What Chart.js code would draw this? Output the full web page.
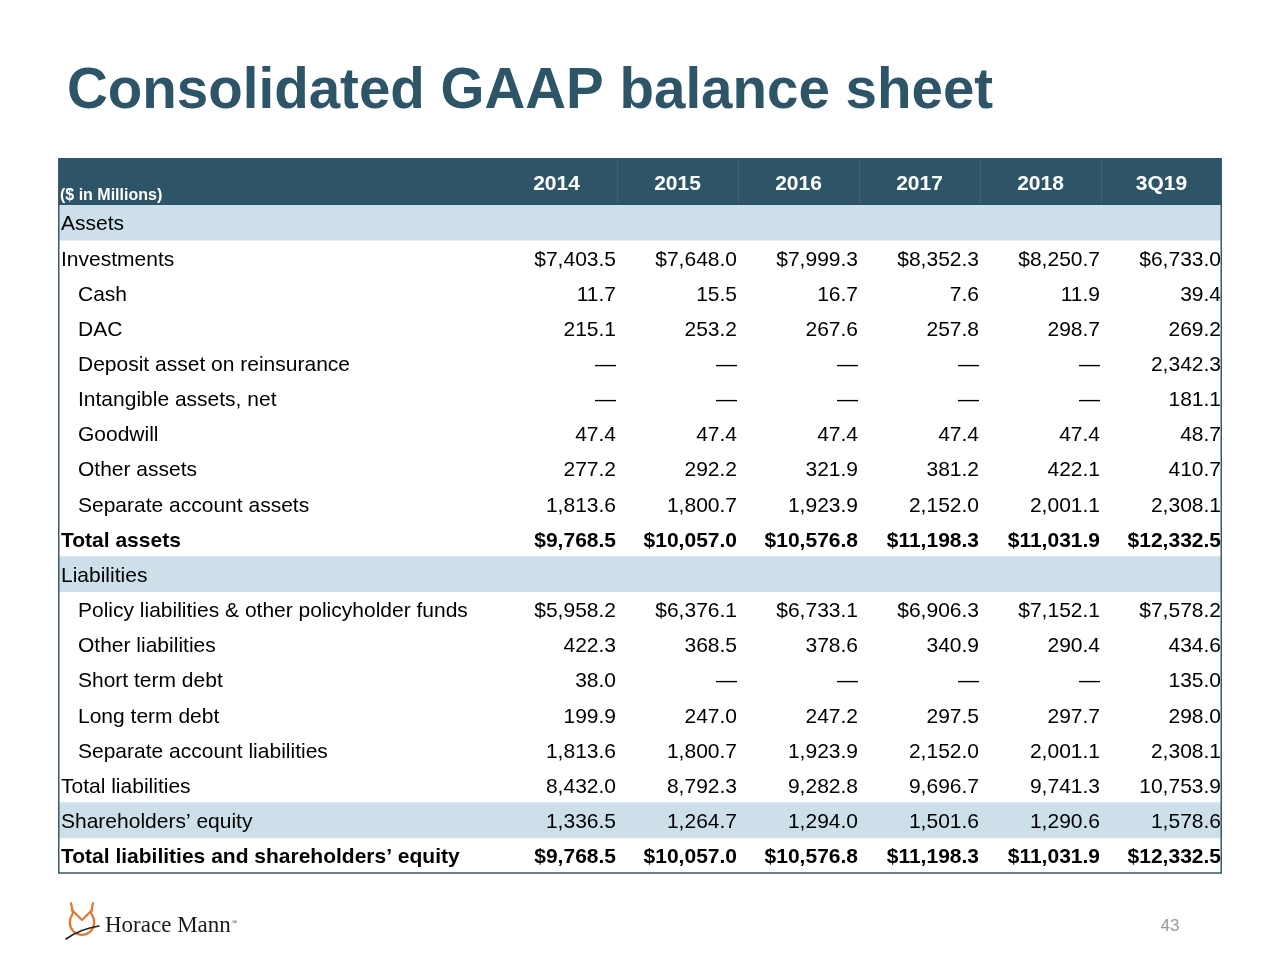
<!DOCTYPE html>
<html>
<head>
<meta charset="utf-8">
<script src="https://cdn.jsdelivr.net/npm/chart.js@4/dist/chart.umd.min.js"></script>
<style>
  html, body { margin: 0; padding: 0; background: #fff; }
  #wrap { width: 1280px; height: 960px; }
</style>
</head>
<body>
<div id="wrap"><canvas id="balance" width="1280" height="960"></canvas></div>
<script>
// Column headers
const years = ['2014', '2015', '2016', '2017', '2018', '3Q19'];

// Row labels (top to bottom)
const rowLabels = [
    'Assets',
    'Investments',
    'Cash',
    'DAC',
    'Deposit asset on reinsurance',
    'Intangible assets, net',
    'Goodwill',
    'Other assets',
    'Separate account assets',
    'Total assets',
    'Liabilities',
    'Policy liabilities & other policyholder funds',
    'Other liabilities',
    'Short term debt',
    'Long term debt',
    'Separate account liabilities',
    'Total liabilities',
    'Shareholders\u2019 equity',
    'Total liabilities and shareholders\u2019 equity'
];

// '' = section heading (no values), null = shown as a dash
const v2014 = ['', 7403.5, 11.7, 215.1, null, null, 47.4, 277.2, 1813.6, 9768.5, '', 5958.2, 422.3, 38.0, 199.9, 1813.6, 8432.0, 1336.5, 9768.5];
const v2015 = ['', 7648.0, 15.5, 253.2, null, null, 47.4, 292.2, 1800.7, 10057.0, '', 6376.1, 368.5, null, 247.0, 1800.7, 8792.3, 1264.7, 10057.0];
const v2016 = ['', 7999.3, 16.7, 267.6, null, null, 47.4, 321.9, 1923.9, 10576.8, '', 6733.1, 378.6, null, 247.2, 1923.9, 9282.8, 1294.0, 10576.8];
const v2017 = ['', 8352.3, 7.6, 257.8, null, null, 47.4, 381.2, 2152.0, 11198.3, '', 6906.3, 340.9, null, 297.5, 2152.0, 9696.7, 1501.6, 11198.3];
const v2018 = ['', 8250.7, 11.9, 298.7, null, null, 47.4, 422.1, 2001.1, 11031.9, '', 7152.1, 290.4, null, 297.7, 2001.1, 9741.3, 1290.6, 11031.9];
const v3Q19 = ['', 6733.0, 39.4, 269.2, 2342.3, 181.1, 48.7, 410.7, 2308.1, 12332.5, '', 7578.2, 434.6, 135.0, 298.0, 2308.1, 10753.9, 1578.6, 12332.5];
const columns = [v2014, v2015, v2016, v2017, v2018, v3Q19];

// Row styling groups
const bandRows = ['Assets', 'Liabilities', 'Shareholders\u2019 equity'];
const boldRows = ['Total assets', 'Total liabilities and shareholders\u2019 equity'];
const dollarRows = ['Investments', 'Total assets', 'Policy liabilities & other policyholder funds', 'Total liabilities and shareholders\u2019 equity'];
const indentRows = ['Cash', 'DAC', 'Deposit asset on reinsurance', 'Intangible assets, net', 'Goodwill', 'Other assets',
    'Separate account assets', 'Policy liabilities & other policyholder funds', 'Other liabilities', 'Short term debt',
    'Long term debt', 'Separate account liabilities'];

// x axis in "column units": label column is LABEL_W wide, each year column is 1
const LABEL_W = 438 / 121;
const X_MIN = -LABEL_W;
const X_MAX = years.length;

const TEAL = '#2e5567';
const BAND = '#cde0e9';
const FONT = '"Liberation Sans", Arial, Helvetica, sans-serif';

const fmt = (v, dollar) => {
    if (v === null) return '\u2014';
    const s = v.toLocaleString('en-US', { minimumFractionDigits: 1, maximumFractionDigits: 1 });
    return dollar ? '$' + s : s;
};

const tablePlugin = {
    id: 'tableText',
    beforeDatasetsDraw(chart) {
        const { ctx, chartArea: a, scales: { x } } = chart;
        // header bar
        ctx.save();
        ctx.fillStyle = TEAL;
        ctx.fillRect(a.left, a.top - 47, a.right - a.left, 47);
        ctx.strokeStyle = 'rgba(255,255,255,0.07)';
        ctx.lineWidth = 1;
        for (let i = 1; i < years.length; i++) {
            const px = Math.round(x.getPixelForValue(i)) + 0.5;
            ctx.beginPath();
            ctx.moveTo(px, a.top - 47);
            ctx.lineTo(px, a.top - 1);
            ctx.stroke();
        }
        ctx.restore();
    },
    afterDatasetsDraw(chart) {
        const { ctx, chartArea: a, scales: { x, y } } = chart;
        ctx.save();

        // header text
        ctx.fillStyle = '#fff';
        ctx.textAlign = 'center';
        ctx.textBaseline = 'middle';
        ctx.font = 'bold 21px ' + FONT;
        years.forEach((yr, i) => {
            ctx.fillText(yr, x.getPixelForValue(i + 0.5), a.top - 21);
        });
        ctx.textAlign = 'left';
        ctx.textBaseline = 'alphabetic';
        ctx.font = 'bold 16px ' + FONT;
        ctx.fillText('($ in Millions)', a.left + 2, a.top - 5);

        // body rows
        ctx.fillStyle = '#000';
        ctx.textBaseline = 'middle';
        rowLabels.forEach((label, r) => {
            const py = y.getPixelForValue(r) + 2;
            const bold = boldRows.includes(label);
            ctx.font = (bold ? 'bold ' : '') + '21px ' + FONT;
            ctx.textAlign = 'left';
            ctx.fillText(label, a.left + (indentRows.includes(label) ? 20 : 3), py);
            ctx.textAlign = 'right';
            columns.forEach((col, c) => {
                const v = col[r];
                if (v === '') return;
                ctx.fillText(fmt(v, dollarRows.includes(label)), x.getPixelForValue(c + 1) - 1, py);
            });
        });

        // table border (left, right, bottom)
        ctx.strokeStyle = '#3d5866';
        ctx.lineWidth = 1.5;
        ctx.beginPath();
        ctx.moveTo(a.left + 0.75, a.top - 47);
        ctx.lineTo(a.left + 0.75, a.bottom);
        ctx.lineTo(a.right - 0.75, a.bottom);
        ctx.lineTo(a.right - 0.75, a.top - 47);
        ctx.stroke();
        ctx.restore();
    },
    afterDraw(chart) {
        const { ctx } = chart;
        ctx.save();
        // title
        ctx.fillStyle = TEAL;
        ctx.font = 'bold 56.5px ' + FONT;
        ctx.textAlign = 'left';
        ctx.textBaseline = 'alphabetic';
        ctx.fillText('Consolidated GAAP balance sheet', 67, 108);

        // page number
        ctx.fillStyle = '#9a9a9a';
        ctx.font = '17px ' + FONT;
        ctx.textAlign = 'center';
        ctx.fillText('43', 1170, 931);

        // logo: owl mark
        ctx.strokeStyle = '#e07a35';
        ctx.lineWidth = 2.2;
        ctx.lineCap = 'round';
        ctx.beginPath();
        ctx.moveTo(71, 903);
        ctx.lineTo(73, 913);
        ctx.quadraticCurveTo(66, 924, 74, 932);
        ctx.quadraticCurveTo(82, 938, 90, 932);
        ctx.quadraticCurveTo(98, 924, 91, 913);
        ctx.lineTo(93, 903);
        ctx.stroke();
        ctx.beginPath();
        ctx.moveTo(72, 910);
        ctx.lineTo(82, 920);
        ctx.lineTo(92, 910);
        ctx.stroke();
        ctx.strokeStyle = '#222';
        ctx.lineWidth = 1.6;
        ctx.beginPath();
        ctx.moveTo(66, 939);
        ctx.quadraticCurveTo(80, 929, 99, 926);
        ctx.stroke();

        // logo: wordmark
        ctx.fillStyle = '#1a1a1a';
        ctx.textAlign = 'left';
        ctx.font = '23px "Liberation Serif", "Times New Roman", serif';
        ctx.fillText('Horace Mann', 105, 932);
        ctx.font = '7px "Liberation Serif", serif';
        ctx.fillText('\u00ae', 232, 924);
        ctx.restore();
    }
};

// section-heading bands drawn as floating bars across the full table width
const bandData = rowLabels.map(l => bandRows.includes(l) ? [X_MIN, X_MAX] : null);

new Chart(document.getElementById('balance'), {
    type: 'bar',
    data: {
        labels: rowLabels,
        datasets: [{
            data: bandData,
            backgroundColor: BAND,
            borderWidth: 0,
            barPercentage: 1,
            categoryPercentage: 1
        }]
    },
    options: {
        indexAxis: 'y',
        responsive: false,
        animation: false,
        events: [],
        layout: { padding: { left: 58, right: 58, top: 205, bottom: 87 } },
        plugins: {
            legend: { display: false },
            tooltip: { enabled: false },
            title: { display: false }
        },
        scales: {
            x: { type: 'linear', min: X_MIN, max: X_MAX, display: false },
            y: { type: 'category', display: false, grid: { display: false } }
        }
    },
    plugins: [tablePlugin]
});
</script>
</body>
</html>
